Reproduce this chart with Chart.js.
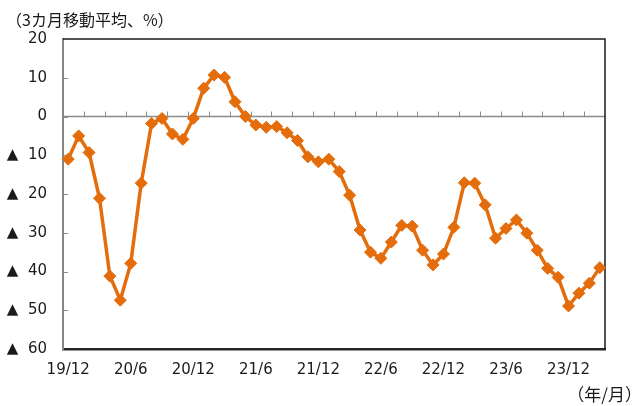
<!DOCTYPE html>
<html lang="ja">
<head>
<meta charset="UTF-8">
<title>3カ月移動平均</title>
<script src="https://cdn.jsdelivr.net/npm/chart.js"></script>
<style>
  html, body { margin: 0; padding: 0; background: #fff; }
  #wrap { width: 642px; height: 406px; }
</style>
</head>
<body>
<div id="wrap"><canvas id="myChart"></canvas></div>
<script>
// 月（19/12〜24/3）
var months = ['19/12',
  '20/1','20/2','20/3','20/4','20/5','20/6','20/7','20/8','20/9','20/10','20/11','20/12',
  '21/1','21/2','21/3','21/4','21/5','21/6','21/7','21/8','21/9','21/10','21/11','21/12',
  '22/1','22/2','22/3','22/4','22/5','22/6','22/7','22/8','22/9','22/10','22/11','22/12',
  '23/1','23/2','23/3','23/4','23/5','23/6','23/7','23/8','23/9','23/10','23/11','23/12',
  '24/1','24/2','24/3'];
// 3カ月移動平均（%）
var values = [-11.0, -5.0, -9.3, -21.1, -41.2, -47.4, -37.9, -17.2, -1.8, -0.5,
  -4.5, -5.9, -0.5, 7.3, 10.7, 10.1, 3.8, 0.0, -2.2, -2.8,
  -2.6, -4.2, -6.2, -10.4, -11.7, -11.0, -14.2, -20.3, -29.3, -35.0,
  -36.6, -32.4, -28.1, -28.3, -34.5, -38.3, -35.5, -28.6, -17.1, -17.2,
  -22.8, -31.4, -28.9, -26.7, -30.1, -34.5, -39.2, -41.5, -48.9, -45.6,
  -43.0, -39.0];
// 表示する月ラベル
var shownLabels = ['19/12', '20/6', '20/12', '21/6', '21/12', '22/6', '22/12', '23/6', '23/12'];
var yMin = -60, yMax = 20, yStep = 10;

var lineColor = '#E46C0A';
var fontFamily = '"DejaVu Sans", "Noto Sans CJK JP", sans-serif';
var cjkFont = '"Noto Sans CJK JP", sans-serif';

// 枠線・ゼロ線・目盛り・単位テキスト
var decoPlugin = {
  id: 'deco',
  beforeDatasetsDraw: function (chart) {
    var ctx = chart.ctx, a = chart.chartArea;
    var xs = chart.scales.x, ys = chart.scales.y;
    ctx.save();
    // ゼロ線
    var y0 = ys.getPixelForValue(0);
    ctx.strokeStyle = '#8c8c8c';
    ctx.lineWidth = 1.5;
    ctx.beginPath();
    ctx.moveTo(a.left, y0); ctx.lineTo(a.right, y0);
    ctx.stroke();
    // ゼロ線上の目盛り（2カ月ごと）
    ctx.lineWidth = 1;
    for (var i = 2; i < months.length; i += 2) {
      var bx = Math.round((xs.getPixelForValue(i - 1) + xs.getPixelForValue(i)) / 2) + 0.5;
      ctx.beginPath();
      ctx.moveTo(bx, y0); ctx.lineTo(bx, y0 - 5);
      ctx.stroke();
    }
    // y軸の内側目盛り
    for (var v = yMin + yStep; v < yMax; v += yStep) {
      var ty = Math.round(ys.getPixelForValue(v)) + 0.5;
      ctx.beginPath();
      ctx.moveTo(a.left, ty); ctx.lineTo(a.left + 5, ty);
      ctx.stroke();
    }
    // 上・右の枠
    ctx.strokeStyle = '#1a1a1a';
    ctx.lineWidth = 1.5;
    ctx.beginPath();
    ctx.moveTo(a.left, a.top); ctx.lineTo(a.right, a.top);
    ctx.lineTo(a.right, a.bottom);
    ctx.stroke();
    ctx.restore();
  },
  afterDraw: function (chart) {
    var ctx = chart.ctx;
    ctx.save();
    ctx.fillStyle = '#1a1a1a';
    ctx.font = '16px ' + cjkFont;
    ctx.textBaseline = 'middle';
    ctx.textAlign = 'left';
    ctx.fillText('（3カ月移動平均、%）', 6, 20);
    ctx.font = '17px ' + cjkFont;
    ctx.textAlign = 'right';
    ctx.fillText('（年/月）', 642, 395);
    ctx.restore();
  }
};

var ctx = document.getElementById('myChart').getContext('2d');
var myChart = new Chart(ctx, {
  type: 'line',
  data: {
    labels: months,
    datasets: [{
      data: values,
      borderColor: lineColor,
      backgroundColor: lineColor,
      borderWidth: 3.5,
      pointStyle: 'rectRot',
      pointRadius: 6,
      pointBorderWidth: 1,
      tension: 0,
      fill: false
    }]
  },
  options: {
    responsive: true,
    maintainAspectRatio: false,
    animation: false,
    layout: { padding: { left: 0, top: 39, right: 37, bottom: 0 } },
    plugins: {
      legend: { display: false },
      tooltip: { enabled: false }
    },
    scales: {
      x: {
        offset: true,
        grid: { display: false, drawTicks: false },
        border: { color: '#262626', width: 2.5 },
        ticks: {
          autoSkip: false,
          maxRotation: 0,
          padding: 12,
          color: '#1a1a1a',
          font: { family: fontFamily, size: 15 },
          callback: function (val, idx) {
            var m = months[idx];
            return shownLabels.indexOf(m) >= 0 ? m : '';
          }
        },
        afterFit: function (scale) { scale.height = 57; }
      },
      y: {
        min: yMin,
        max: yMax,
        grid: { display: false, drawTicks: false },
        border: { color: '#868686', width: 2 },
        ticks: {
          stepSize: yStep,
          padding: 16,
          color: '#1a1a1a',
          font: { family: fontFamily, size: 15 },
          callback: function (v) { return v < 0 ? '▲  ' + (-v) : String(v); }
        },
        afterFit: function (scale) { scale.width = 63; }
      }
    }
  },
  plugins: [decoPlugin]
});
</script>
</body>
</html>
